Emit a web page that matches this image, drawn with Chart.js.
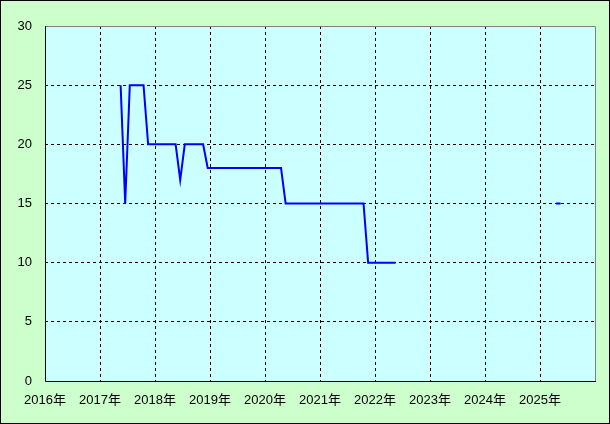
<!DOCTYPE html>
<html><head><meta charset="utf-8">
<script src="https://cdn.jsdelivr.net/npm/chart.js@4"></script>
<style>html,body{margin:0;padding:0;background:#ccffcc;}#wrap{width:610px;height:424px;}</style>
</head><body><div id="wrap"><canvas id="c" width="610" height="424"></canvas></div>
<script>
const months = [
 '2017-05','2017-06','2017-07','2017-08','2017-09','2017-10','2017-11','2017-12',
 '2018-01','2018-02','2018-03','2018-04','2018-05','2018-06','2018-07','2018-08','2018-09','2018-10','2018-11','2018-12',
 '2019-01','2019-02','2019-03','2019-04','2019-05','2019-06','2019-07','2019-08','2019-09','2019-10','2019-11','2019-12',
 '2020-01','2020-02','2020-03','2020-04','2020-05','2020-06','2020-07','2020-08','2020-09','2020-10','2020-11','2020-12',
 '2021-01','2021-02','2021-03','2021-04','2021-05','2021-06','2021-07','2021-08','2021-09','2021-10','2021-11','2021-12',
 '2022-01','2022-02','2022-03','2022-04','2022-05','2022-06',
 '2025-04','2025-05'
];
const values = [
 25,15,25,25,25,25,20,20,
 20,20,20,20,20,17,20,20,20,20,20,18,
 18,18,18,18,18,18,18,18,18,18,18,18,
 18,18,18,18,15,15,15,15,15,15,15,15,
 15,15,15,15,15,15,15,15,15,15,10,10,
 10,10,10,10,10,null,
 15,15
];
const yTicks = [0,5,10,15,20,25,30];
const yearTicks = [2016,2017,2018,2019,2020,2021,2022,2023,2024,2025,2026];
const yearSuffix = '年';

const points = months.map((m,i)=>{
  const [y,mo] = m.split('-').map(Number);
  return {x: y + (mo-0.5)/12, y: values[i]};
});

const FONT = {family: "'Liberation Sans','Noto Sans CJK JP',sans-serif", size: 13};

const bgPlugin = {
  id:'bg',
  beforeDraw(chart){
    const ctx = chart.ctx, a = chart.chartArea;
    ctx.save();
    ctx.fillStyle = '#ccffcc';
    ctx.fillRect(0,0,chart.width,chart.height);
    ctx.strokeStyle = '#000';
    ctx.lineWidth = 1;
    ctx.strokeRect(0.5,0.5,chart.width-1,chart.height-1);
    ctx.fillStyle = '#ccffff';
    ctx.fillRect(a.left,a.top,a.right-a.left,a.bottom-a.top);
    ctx.restore();
  },
  beforeDatasetsDraw(chart){
    const ctx = chart.ctx, a = chart.chartArea;
    ctx.save();
    ctx.lineWidth = 1;
    ctx.strokeStyle = '#808080';
    ctx.beginPath();
    ctx.moveTo(a.left, a.top+0.5); ctx.lineTo(a.right+0.5, a.top+0.5);
    ctx.lineTo(a.right+0.5, a.bottom);
    ctx.stroke();
    ctx.strokeStyle = '#000';
    ctx.beginPath();
    ctx.moveTo(a.left+0.5, a.top); ctx.lineTo(a.left+0.5, a.bottom+0.5);
    ctx.lineTo(a.right+1, a.bottom+0.5);
    ctx.stroke();
    ctx.restore();
  }
};

new Chart(document.getElementById('c'), {
  type:'line',
  data:{datasets:[{data:points, borderColor:'#0000ff', borderWidth:2, pointRadius:0, spanGaps:false, tension:0, fill:false}]},
  options:{
    responsive:false, animation:false,
    layout:{padding:{left:0,top:26,right:15,bottom:0}},
    plugins:{legend:{display:false}, tooltip:{enabled:false}},
    scales:{
      x:{type:'linear', min:yearTicks[0], max:yearTicks[yearTicks.length-1],
        afterBuildTicks(s){ s.ticks = yearTicks.map(v=>({value:v})); },
        afterFit(s){ s.height = 43; },
        ticks:{color:'#000', font:FONT, padding:12, maxRotation:0, autoSkip:false,
          callback:(v)=> v===yearTicks[yearTicks.length-1] ? '' : v + yearSuffix},
        grid:{drawTicks:false, color:(c)=> (c.index===0||c.index===yearTicks.length-1)?'rgba(0,0,0,0)':'#000',
          lineWidth:1, tickBorderDash:[3,3]},
        border:{display:false, dash:[3,3]}
      },
      y:{type:'linear', min:0, max:30,
        afterBuildTicks(s){ s.ticks = yTicks.map(v=>({value:v})); },
        afterFit(s){ s.width = 45; },
        ticks:{color:'#000', font:FONT, padding:13},
        grid:{drawTicks:false, color:(c)=> (c.index===0||c.index===yTicks.length-1)?'rgba(0,0,0,0)':'#000', lineWidth:1},
        border:{display:false, dash:[3,3]}
      }
    }
  },
  plugins:[bgPlugin]
});
</script></body></html>
